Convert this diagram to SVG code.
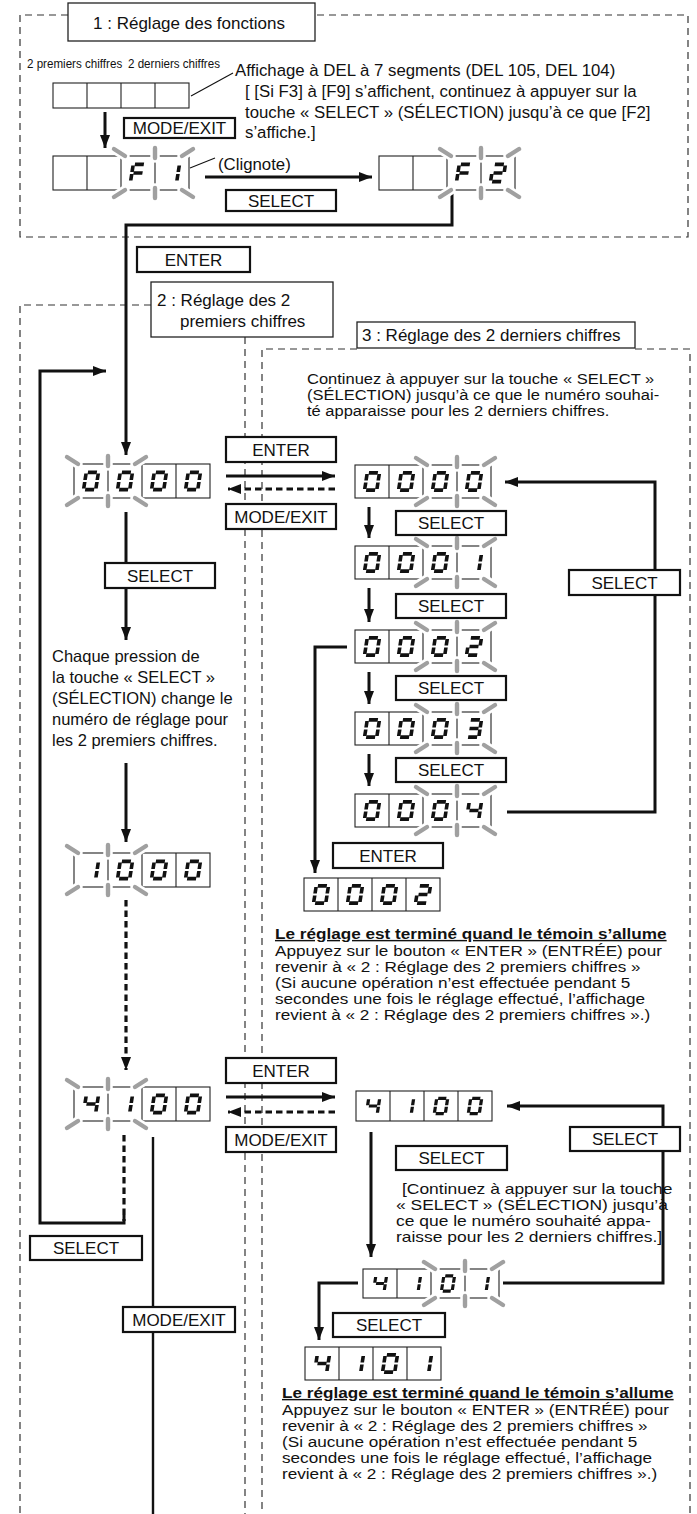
<svg xmlns="http://www.w3.org/2000/svg" width="697" height="1514" viewBox="0 0 697 1514">
<style>
text{font-family:'Liberation Sans',Arial,Helvetica,sans-serif;fill:#111}
.t{font-size:16.5px}
.tt{font-size:16.8px}
.tn{font-size:14.3px}
.hd{font-size:14.3px;font-weight:bold;text-decoration:underline}
.bt{font-size:17px;text-anchor:middle}
.ttl{font-size:17px}
.sm{font-size:13.5px}
.dash{fill:none;stroke:#333;stroke-width:1.2;stroke-dasharray:7 5}
.tbox{fill:#fff;stroke:#222;stroke-width:1.3}
.btn{fill:#fff;stroke:#111;stroke-width:2.2}
.cell{fill:#fff;stroke:#222;stroke-width:1.1}
.div{fill:none;stroke:#222;stroke-width:1.1}
.seg{stroke:#111;stroke-width:3.6}
.ray{stroke:#a0a0a0;stroke-width:4.4;stroke-linecap:round}
.halo{stroke:#fff;stroke-width:9.5;stroke-linecap:round}
.ln{fill:none;stroke:#111;stroke-width:3}
.lnm{fill:none;stroke:#111;stroke-width:2.4}
.lnd{fill:none;stroke:#111;stroke-width:3.2;stroke-dasharray:6.5 4}
.thin{fill:none;stroke:#111;stroke-width:1.1}
</style>
<defs>
<marker id="ah" viewBox="0 0 13 10" refX="13" refY="5" markerWidth="13" markerHeight="10" markerUnits="userSpaceOnUse" orient="auto"><path d="M0,0L13,5L0,10z" fill="#111"/></marker>
<line id="sa" x1="-4.5" y1="-8.6" x2="4.5" y2="-8.6"/>
<line id="sb" x1="6.1" y1="-7.4" x2="6.1" y2="-0.9"/>
<line id="sc" x1="6.1" y1="0.9" x2="6.1" y2="7.4"/>
<line id="sd" x1="-4.5" y1="8.6" x2="4.5" y2="8.6"/>
<line id="se" x1="-6.1" y1="0.9" x2="-6.1" y2="7.4"/>
<line id="sf" x1="-6.1" y1="-7.4" x2="-6.1" y2="-0.9"/>
<line id="sg" x1="-4.5" y1="0" x2="4.5" y2="0"/>
<g id="d0" class="seg" transform="skewX(-9)"><use href="#sa"/><use href="#sb"/><use href="#sc"/><use href="#sd"/><use href="#se"/><use href="#sf"/></g>
<g id="d1" class="seg" transform="skewX(-9)"><use href="#sb"/><use href="#sc"/></g>
<g id="d2" class="seg" transform="skewX(-9)"><use href="#sa"/><use href="#sb"/><use href="#sg"/><use href="#se"/><use href="#sd"/></g>
<g id="d3" class="seg" transform="skewX(-9)"><use href="#sa"/><use href="#sb"/><use href="#sg"/><use href="#sc"/><use href="#sd"/></g>
<g id="d4" class="seg" transform="skewX(-9)"><use href="#sf"/><use href="#sg"/><use href="#sb"/><use href="#sc"/></g>
<g id="dF" class="seg" transform="skewX(-9)"><use href="#sa"/><use href="#sf"/><use href="#sg"/><use href="#se"/></g>
<g id="bkt">
<g class="halo"><line x1="-7" y1="-7" x2="4" y2="0"/><line x1="34" y1="-8" x2="34" y2="2"/><line x1="61" y1="0" x2="72" y2="-7"/></g>
<g class="ray"><line x1="-7" y1="-7" x2="4" y2="0"/><line x1="34" y1="-8" x2="34" y2="2"/><line x1="61" y1="0" x2="72" y2="-7"/></g>
</g>
<g id="bkb">
<g class="halo"><line x1="-7" y1="7" x2="4" y2="0"/><line x1="34" y1="8" x2="34" y2="-2"/><line x1="61" y1="0" x2="72" y2="7"/></g>
<g class="ray"><line x1="-7" y1="7" x2="4" y2="0"/><line x1="34" y1="8" x2="34" y2="-2"/><line x1="61" y1="0" x2="72" y2="7"/></g>
</g>
</defs>
<rect width="697" height="1514" fill="#fff"/>

<!-- section frames -->
<g id="frames">
<path class="dash" d="M68,15H20V237H688V15H315"/>
<path class="dash" d="M151,305H20V1514"/>
<path class="dash" d="M245,337V1514"/>
<path class="dash" d="M357,349H262V1514"/>
<path class="dash" d="M635,349H690V1514"/>
</g>

<!-- connectors -->
<g id="connectors">
<line class="thin" x1="191" y1="96" x2="233" y2="73"/>
<line class="thin" x1="190" y1="168" x2="215" y2="158"/>
<line class="ln" x1="105" y1="112" x2="105" y2="148" marker-end="url(#ah)"/>
<line class="ln" x1="205" y1="177" x2="372" y2="177" marker-end="url(#ah)"/>
<path class="ln" d="M452,190V225H126V455" marker-end="url(#ah)"/>
<line class="ln" x1="226" y1="476" x2="335" y2="476" marker-end="url(#ah)"/>
<line class="lnd" x1="335" y1="489" x2="228" y2="489" marker-end="url(#ah)"/>
<line class="ln" x1="126" y1="512" x2="126" y2="640" marker-end="url(#ah)"/>
<line class="ln" x1="126" y1="763" x2="126" y2="842" marker-end="url(#ah)"/>
<line class="lnd" x1="126" y1="900" x2="126" y2="1070" marker-end="url(#ah)"/>
<line class="ln" x1="226" y1="1097" x2="335" y2="1097" marker-end="url(#ah)"/>
<line class="lnd" x1="335" y1="1112" x2="228" y2="1112" marker-end="url(#ah)"/>
<line class="lnd" x1="124" y1="1135" x2="124" y2="1221"/>
<path class="ln" d="M124,1215V1223H40V371H106" marker-end="url(#ah)"/>
<line class="lnm" x1="153" y1="1137" x2="153" y2="1514"/>
<line class="ln" x1="369" y1="507" x2="369" y2="538" marker-end="url(#ah)"/>
<line class="ln" x1="369" y1="588" x2="369" y2="622" marker-end="url(#ah)"/>
<line class="ln" x1="369" y1="672" x2="369" y2="704" marker-end="url(#ah)"/>
<line class="ln" x1="369" y1="754" x2="369" y2="786" marker-end="url(#ah)"/>
<path class="ln" d="M507,812H655V482H505" marker-end="url(#ah)"/>
<path class="ln" d="M347,647H315V873" marker-end="url(#ah)"/>
<path class="ln" d="M503,1283H663V1106H507" marker-end="url(#ah)"/>
<line class="ln" x1="371" y1="1132" x2="371" y2="1257" marker-end="url(#ah)"/>
<path class="ln" d="M358,1283H319V1340" marker-end="url(#ah)"/>
</g>

<!-- section 1 -->
<g id="title1"><rect class="tbox" x="68" y="3" width="247" height="38"/><text class="ttl" x="189" y="29" text-anchor="middle">1 : Réglage des fonctions</text></g>
<g id="labels1">
<text class="sm" x="27" y="68" transform="matrix(0.86,0,0,1,3.78,0)">2 premiers chiffres</text>
<text class="sm" x="128" y="68" transform="matrix(0.86,0,0,1,17.92,0)">2 derniers chiffres</text>
<text class="tt" x="235" y="76">Affichage à DEL à 7 segments (DEL 105, DEL 104)</text>
<text class="tt" x="245" y="97">[ [Si F3] à [F9] s’affichent, continuez à appuyer sur la</text>
<text class="tt" x="245" y="117.5">touche « SELECT » (SÉLECTION) jusqu’à ce que [F2]</text>
<text class="tt" x="245" y="138">s’affiche.]</text>
<text class="tt" x="218" y="170">(Clignote)</text>
</g>
<g id="disp-empty" transform="translate(53,83)"><rect class="cell" width="136" height="25"/><path class="div" d="M34,0V25M68,0V25M102,0V25"/></g>
<g id="btn-mode1"><rect class="btn" x="124" y="118" width="111" height="20"/><text class="bt" x="179.5" y="134">MODE/EXIT</text></g>
<g id="disp-F1" transform="translate(53,156)"><rect class="cell" width="136" height="34"/><path class="div" d="M34,0V34M68,0V34M102,0V34"/><use href="#bkt" x="68"/><use href="#bkb" x="68" y="34"/><use href="#dF" x="85" y="17"/><use href="#d1" x="119" y="17"/></g>
<g id="btn-sel1"><rect class="btn" x="226" y="190" width="110" height="21"/><text class="bt" x="281" y="206.5">SELECT</text></g>
<g id="disp-F2" transform="translate(379,156)"><rect class="cell" width="136" height="34"/><path class="div" d="M34,0V34M68,0V34M102,0V34"/><use href="#bkt" x="68"/><use href="#bkb" x="68" y="34"/><use href="#dF" x="85" y="17"/><use href="#d2" x="119" y="17"/></g>
<g id="btn-enter0"><rect class="btn" x="137" y="247" width="113" height="25"/><text class="bt" x="193.5" y="265.5">ENTER</text></g>

<!-- section 2 -->
<g id="title2"><rect class="tbox" x="151" y="282" width="182" height="55"/><text class="ttl" x="157" y="306">2 : Réglage des 2</text><text class="ttl" x="180" y="327">premiers chiffres</text></g>
<g id="disp-L0000" transform="translate(74,464)"><rect class="cell" width="136" height="34"/><path class="div" d="M34,0V34M68,0V34M102,0V34"/><use href="#bkt"/><use href="#bkb" y="34"/><use href="#d0" x="17" y="17"/><use href="#d0" x="51" y="17"/><use href="#d0" x="85" y="17"/><use href="#d0" x="119" y="17"/></g>
<g id="btn-enter1"><rect class="btn" x="226" y="437" width="110" height="25"/><text class="bt" x="281" y="455.5">ENTER</text></g>
<g id="btn-mode2"><rect class="btn" x="226" y="504" width="110" height="25"/><text class="bt" x="281" y="522.5">MODE/EXIT</text></g>
<g id="btn-sel2"><rect class="btn" x="105" y="563" width="110" height="25"/><text class="bt" x="160" y="581.5">SELECT</text></g>
<g id="text-chaque">
<text class="t" x="52" y="662">Chaque pression de</text>
<text class="t" x="52" y="683">la touche « SELECT »</text>
<text class="t" x="52" y="704">(SÉLECTION) change le</text>
<text class="t" x="52" y="725">numéro de réglage pour</text>
<text class="t" x="52" y="746">les 2 premiers chiffres.</text>
</g>
<g id="disp-L1000" transform="translate(74,853)"><rect class="cell" width="136" height="34"/><path class="div" d="M34,0V34M68,0V34M102,0V34"/><use href="#bkt"/><use href="#bkb" y="34"/><use href="#d1" x="17" y="17"/><use href="#d0" x="51" y="17"/><use href="#d0" x="85" y="17"/><use href="#d0" x="119" y="17"/></g>
<g id="disp-L4100" transform="translate(74,1087)"><rect class="cell" width="136" height="34"/><path class="div" d="M34,0V34M68,0V34M102,0V34"/><use href="#bkt"/><use href="#bkb" y="34"/><use href="#d4" x="17" y="17"/><use href="#d1" x="51" y="17"/><use href="#d0" x="85" y="17"/><use href="#d0" x="119" y="17"/></g>
<g id="btn-enter3"><rect class="btn" x="226" y="1058" width="110" height="25"/><text class="bt" x="281" y="1076.5">ENTER</text></g>
<g id="btn-mode3"><rect class="btn" x="226" y="1127" width="110" height="25"/><text class="bt" x="281" y="1145.5">MODE/EXIT</text></g>
<g id="btn-sel3"><rect class="btn" x="30" y="1236" width="112" height="24"/><text class="bt" x="86" y="1254">SELECT</text></g>
<g id="btn-mode4"><rect class="btn" x="123" y="1307" width="112" height="25"/><text class="bt" x="179" y="1325.5">MODE/EXIT</text></g>

<!-- section 3 -->
<g id="title3"><rect class="tbox" x="357" y="322" width="278" height="26"/><text class="ttl" x="362" y="341">3 : Réglage des 2 derniers chiffres</text></g>
<g id="text-intro3" transform="matrix(1.154,0,0,1,-47.28,0)">
<text class="tn" x="307" y="384">Continuez à appuyer sur la touche « SELECT »</text>
<text class="tn" x="307" y="400">(SÉLECTION) jusqu’à ce que le numéro souhai-</text>
<text class="tn" x="307" y="416">té apparaisse pour les 2 derniers chiffres.</text>
</g>
<g id="disp-R0000" transform="translate(355,465)"><rect class="cell" width="136" height="33"/><path class="div" d="M34,0V33M68,0V33M102,0V33"/><use href="#bkt" x="68"/><use href="#bkb" x="68" y="33"/><use href="#d0" x="17" y="16.5"/><use href="#d0" x="51" y="16.5"/><use href="#d0" x="85" y="16.5"/><use href="#d0" x="119" y="16.5"/></g>
<g id="disp-R0001" transform="translate(355,546)"><rect class="cell" width="136" height="33"/><path class="div" d="M34,0V33M68,0V33M102,0V33"/><use href="#bkt" x="68"/><use href="#bkb" x="68" y="33"/><use href="#d0" x="17" y="16.5"/><use href="#d0" x="51" y="16.5"/><use href="#d0" x="85" y="16.5"/><use href="#d1" x="119" y="16.5"/></g>
<g id="disp-R0002" transform="translate(355,630)"><rect class="cell" width="136" height="33"/><path class="div" d="M34,0V33M68,0V33M102,0V33"/><use href="#bkt" x="68"/><use href="#bkb" x="68" y="33"/><use href="#d0" x="17" y="16.5"/><use href="#d0" x="51" y="16.5"/><use href="#d0" x="85" y="16.5"/><use href="#d2" x="119" y="16.5"/></g>
<g id="disp-R0003" transform="translate(355,712)"><rect class="cell" width="136" height="33"/><path class="div" d="M34,0V33M68,0V33M102,0V33"/><use href="#bkt" x="68"/><use href="#bkb" x="68" y="33"/><use href="#d0" x="17" y="16.5"/><use href="#d0" x="51" y="16.5"/><use href="#d0" x="85" y="16.5"/><use href="#d3" x="119" y="16.5"/></g>
<g id="disp-R0004" transform="translate(355,794)"><rect class="cell" width="136" height="33"/><path class="div" d="M34,0V33M68,0V33M102,0V33"/><use href="#bkt" x="68"/><use href="#bkb" x="68" y="33"/><use href="#d0" x="17" y="16.5"/><use href="#d0" x="51" y="16.5"/><use href="#d0" x="85" y="16.5"/><use href="#d4" x="119" y="16.5"/></g>
<g id="btn-sel4"><rect class="btn" x="396" y="511" width="110" height="24"/><text class="bt" x="451" y="529">SELECT</text></g>
<g id="btn-sel5"><rect class="btn" x="396" y="594" width="110" height="24"/><text class="bt" x="451" y="612">SELECT</text></g>
<g id="btn-sel6"><rect class="btn" x="396" y="676" width="110" height="24"/><text class="bt" x="451" y="694">SELECT</text></g>
<g id="btn-sel7"><rect class="btn" x="396" y="758" width="110" height="24"/><text class="bt" x="451" y="776">SELECT</text></g>
<g id="btn-sel8"><rect class="btn" x="569" y="570" width="111" height="25"/><text class="bt" x="624.5" y="588.5">SELECT</text></g>
<g id="btn-enter4"><rect class="btn" x="333" y="843" width="110" height="25"/><text class="bt" x="388" y="861.5">ENTER</text></g>
<g id="disp-S0002" transform="translate(304,878)"><rect class="cell" width="136" height="33"/><path class="div" d="M34,0V33M68,0V33M102,0V33"/><use href="#d0" x="17" y="16.5"/><use href="#d0" x="51" y="16.5"/><use href="#d0" x="85" y="16.5"/><use href="#d2" x="119" y="16.5"/></g>
<g id="text-done1" transform="matrix(1.2,0,0,1,-55,0)">
<text class="hd" x="275" y="939">Le réglage est terminé quand le témoin s’allume</text>
<text class="tn" x="275" y="956">Appuyez sur le bouton « ENTER » (ENTRÉE) pour</text>
<text class="tn" x="275" y="972">revenir à « 2 : Réglage des 2 premiers chiffres »</text>
<text class="tn" x="275" y="988">(Si aucune opération n’est effectuée pendant 5</text>
<text class="tn" x="275" y="1004">secondes une fois le réglage effectué, l’affichage</text>
<text class="tn" x="275" y="1020">revient à « 2 : Réglage des 2 premiers chiffres ».)</text>
</g>
<g id="disp-R4100" transform="translate(356,1091)"><rect class="cell" width="136" height="30"/><path class="div" d="M34,0V30M68,0V30M102,0V30"/><use href="#d4" transform="translate(17,15) scale(0.9)"/><use href="#d1" transform="translate(51,15) scale(0.9)"/><use href="#d0" transform="translate(85,15) scale(0.9)"/><use href="#d0" transform="translate(119,15) scale(0.9)"/></g>
<g id="btn-sel9"><rect class="btn" x="570" y="1127" width="110" height="24"/><text class="bt" x="625" y="1145">SELECT</text></g>
<g id="btn-sel10"><rect class="btn" x="396" y="1146" width="111" height="24"/><text class="bt" x="451.5" y="1164">SELECT</text></g>
<g id="text-bracket" transform="matrix(1.22,0,0,1,-87.12,0)">
<text class="tn" x="400.9" y="1194">[Continuez à appuyer sur la touche</text>
<text class="tn" x="396" y="1210">« SELECT » (SÉLECTION) jusqu’à</text>
<text class="tn" x="396" y="1226">ce que le numéro souhaité appa-</text>
<text class="tn" x="396" y="1242">raisse pour les 2 derniers chiffres.]</text>
</g>
<g id="disp-R4101" transform="translate(363,1269)"><rect class="cell" width="136" height="29"/><path class="div" d="M34,0V29M68,0V29M102,0V29"/><use href="#bkt" x="68"/><use href="#bkb" x="68" y="29"/><use href="#d4" transform="translate(17,14.5) scale(0.88)"/><use href="#d1" transform="translate(51,14.5) scale(0.88)"/><use href="#d0" transform="translate(85,14.5) scale(0.88)"/><use href="#d1" transform="translate(119,14.5) scale(0.88)"/></g>
<g id="btn-sel11"><rect class="btn" x="333" y="1313" width="112" height="24"/><text class="bt" x="389" y="1331">SELECT</text></g>
<g id="disp-S4101" transform="translate(305,1347)"><rect class="cell" width="136" height="33"/><path class="div" d="M34,0V33M68,0V33M102,0V33"/><use href="#d4" x="17" y="16.5"/><use href="#d1" x="51" y="16.5"/><use href="#d0" x="85" y="16.5"/><use href="#d1" x="119" y="16.5"/></g>
<g id="text-done2" transform="matrix(1.2,0,0,1,-56.4,0)">
<text class="hd" x="282" y="1398">Le réglage est terminé quand le témoin s’allume</text>
<text class="tn" x="282" y="1415">Appuyez sur le bouton « ENTER » (ENTRÉE) pour</text>
<text class="tn" x="282" y="1431">revenir à « 2 : Réglage des 2 premiers chiffres »</text>
<text class="tn" x="282" y="1447">(Si aucune opération n’est effectuée pendant 5</text>
<text class="tn" x="282" y="1463">secondes une fois le réglage effectué, l’affichage</text>
<text class="tn" x="282" y="1479">revient à « 2 : Réglage des 2 premiers chiffres ».)</text>
</g>
</svg>
